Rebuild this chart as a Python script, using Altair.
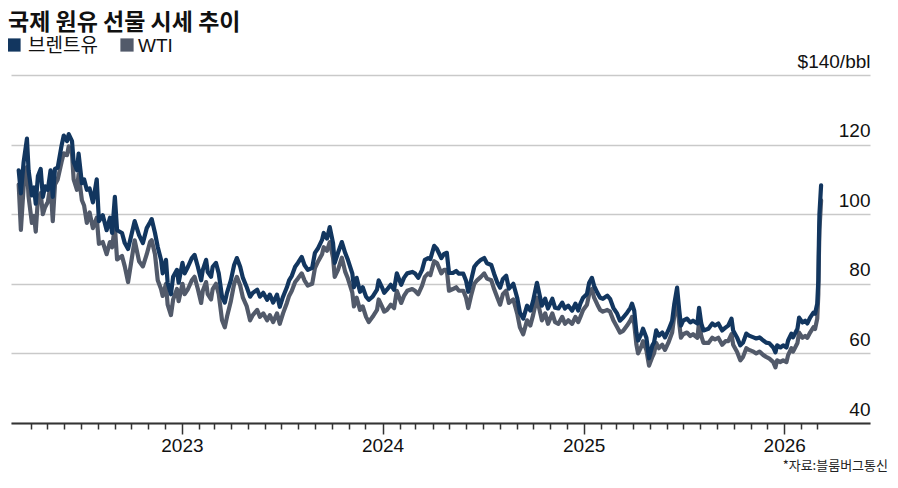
import altair as alt
import pandas as pd

TITLE = "국제 원유 선물 시세 추이"
SOURCE = "*자료:블룸버그통신"
SERIES = ["브렌트유", "WTI"]
COLORS = ["#12365f", "#525a6a"]

dates = [
    "2022-03-10","2022-03-14","2022-03-19","2022-03-25","2022-03-28","2022-04-03","2022-04-07","2022-04-10",
    "2022-04-14","2022-04-19","2022-04-23","2022-04-27","2022-05-02","2022-05-07","2022-05-11","2022-05-15",
    "2022-05-20","2022-05-27","2022-05-31","2022-06-06","2022-06-09","2022-06-15","2022-06-18","2022-06-24",
    "2022-06-27","2022-07-03","2022-07-07","2022-07-12","2022-07-17","2022-07-23","2022-07-30","2022-08-03",
    "2022-08-10","2022-08-17","2022-08-23","2022-08-27","2022-09-01","2022-09-05","2022-09-14","2022-09-19",
    "2022-09-25","2022-10-07","2022-10-15","2022-10-22","2022-10-29","2022-11-04","2022-11-07","2022-11-13",
    "2022-11-18","2022-11-24","2022-11-27","2022-12-03","2022-12-06","2022-12-12","2022-12-16","2022-12-23",
    "2022-12-26",
    "2023-01-02","2023-01-06","2023-01-12","2023-01-19","2023-01-24","2023-01-30","2023-02-05","2023-02-08",
    "2023-02-14","2023-02-17","2023-02-23","2023-02-26","2023-03-04","2023-03-09","2023-03-15","2023-03-20",
    "2023-03-24","2023-03-31","2023-04-06","2023-04-11","2023-04-17","2023-04-22","2023-04-29","2023-05-05",
    "2023-05-10","2023-05-18","2023-05-23","2023-05-29","2023-06-05","2023-06-10","2023-06-16","2023-06-23",
    "2023-06-28","2023-07-04","2023-07-11","2023-07-15","2023-07-20","2023-07-26","2023-07-31","2023-08-07",
    "2023-08-12","2023-08-18","2023-08-26","2023-08-31","2023-09-06","2023-09-13","2023-09-16","2023-09-22",
    "2023-09-27","2023-10-03","2023-10-06","2023-10-12","2023-10-19","2023-10-25","2023-10-30","2023-11-07",
    "2023-11-10","2023-11-15","2023-11-21","2023-11-26","2023-12-02","2023-12-07","2023-12-14","2023-12-22",
    "2023-12-25","2023-12-31",
    "2024-01-04","2024-01-09","2024-01-16","2024-01-22","2024-01-27","2024-02-04","2024-02-09","2024-02-15",
    "2024-02-24","2024-02-29","2024-03-06","2024-03-13","2024-03-18","2024-03-24","2024-03-28","2024-04-04",
    "2024-04-09","2024-04-17","2024-04-22","2024-04-27","2024-05-01","2024-05-08","2024-05-14","2024-05-19",
    "2024-05-27","2024-06-01","2024-06-05","2024-06-10","2024-06-16","2024-06-21","2024-06-28","2024-07-04",
    "2024-07-09","2024-07-17","2024-07-22","2024-07-28","2024-08-02","2024-08-07","2024-08-13","2024-08-18",
    "2024-08-26","2024-09-02","2024-09-07","2024-09-13","2024-09-20","2024-09-26","2024-10-01","2024-10-08",
    "2024-10-12","2024-10-17","2024-10-23","2024-10-28","2024-11-05","2024-11-10","2024-11-16","2024-11-23",
    "2024-11-28","2024-12-04","2024-12-11","2024-12-17","2024-12-22","2024-12-26","2024-12-31",
    "2025-01-07","2025-01-11","2025-01-16","2025-01-20","2025-01-26","2025-01-31","2025-02-05","2025-02-13",
    "2025-02-18","2025-02-24","2025-03-03","2025-03-08","2025-03-14","2025-03-21","2025-03-27","2025-03-30",
    "2025-04-03","2025-04-07","2025-04-10","2025-04-16","2025-04-19","2025-04-25","2025-04-30","2025-05-06",
    "2025-05-09","2025-05-13","2025-05-18","2025-05-24","2025-05-29","2025-06-04","2025-06-11","2025-06-15",
    "2025-06-20","2025-06-24","2025-06-27","2025-07-01","2025-07-08","2025-07-14","2025-07-19","2025-07-27",
    "2025-07-30","2025-08-03","2025-08-07","2025-08-16","2025-08-23","2025-08-28","2025-09-03","2025-09-10",
    "2025-09-16","2025-09-21","2025-09-27","2025-09-30","2025-10-07","2025-10-13","2025-10-18","2025-10-24",
    "2025-10-29","2025-11-06","2025-11-11","2025-11-17","2025-11-24","2025-11-29","2025-12-05","2025-12-12",
    "2025-12-16","2025-12-19","2025-12-25","2025-12-30",
    "2026-01-05","2026-01-08","2026-01-14","2026-01-17","2026-01-25","2026-01-28","2026-02-03","2026-02-08",
    "2026-02-12","2026-02-17","2026-02-23","2026-02-26","2026-03-02","2026-03-04","2026-03-05","2026-03-06",
    "2026-03-09",
]

brent = [
    112.6,106.0,115.0,121.7,112.6,105.4,107.7,103.0,
    111.0,113.0,105.0,108.0,107.0,112.6,105.0,113.0,
    113.4,119.7,122.6,121.0,123.0,121.0,115.0,112.6,
    117.4,108.9,110.0,107.0,107.4,103.4,110.0,98.0,
    99.7,95.4,99.0,94.6,105.0,95.4,94.6,91.7,
    90.0,98.0,94.0,91.7,96.0,97.7,98.6,94.6,
    90.6,86.9,83.0,86.9,80.3,77.0,82.0,84.0,
    80.3,
    86.0,83.0,84.9,87.4,88.3,84.9,81.0,84.0,
    86.9,83.4,82.0,84.9,86.0,83.0,76.3,74.6,
    77.4,81.0,85.4,87.4,84.9,81.7,79.0,76.3,
    77.4,78.3,76.3,77.4,75.4,76.9,74.6,76.9,
    73.4,76.3,79.0,81.0,82.3,84.9,86.0,87.7,
    85.4,84.0,84.6,88.9,90.3,92.6,94.6,93.0,
    96.3,91.7,86.0,88.9,92.0,88.9,86.9,83.0,
    79.0,81.7,77.7,79.0,76.3,75.4,76.3,78.3,
    81.0,79.0,
    77.4,78.3,79.7,78.3,83.0,79.7,81.7,83.0,
    83.4,83.0,81.7,84.0,86.9,87.4,87.1,90.9,
    90.0,87.4,88.6,88.9,83.1,83.1,83.7,82.9,
    82.9,80.9,77.7,80.9,84.9,85.9,86.9,87.4,
    85.9,85.4,82.9,80.3,78.9,81.4,82.3,78.6,
    80.0,76.0,71.7,70.0,73.7,72.3,75.1,80.3,
    77.4,73.7,75.7,72.9,75.7,73.1,72.9,74.6,
    72.9,73.7,72.3,74.3,72.3,74.3,76.0,
    77.1,80.3,81.7,79.4,77.4,76.0,75.7,76.6,
    75.7,73.1,71.4,69.4,70.3,71.7,73.1,74.3,
    72.3,66.0,63.7,65.7,67.1,64.6,58.6,62.3,
    63.1,66.6,65.1,66.0,64.6,66.6,69.4,74.3,
    78.9,72.3,68.0,69.4,70.0,68.9,69.4,68.6,
    73.1,68.6,66.6,67.1,68.6,68.0,68.6,66.6,
    67.4,68.0,70.0,66.6,64.6,62.3,63.1,65.7,
    65.1,64.6,64.3,64.6,63.7,63.1,62.9,61.7,
    60.3,62.3,61.7,62.3,
    61.7,63.7,65.7,64.6,67.1,70.3,68.9,69.4,
    68.6,70.3,71.7,71.4,74.3,81.0,92.0,100.0,
    108.3,
]

wti = [
    108.5,95.5,108.0,113.5,105.0,97.5,99.5,95.0,
    104.5,106.0,100.0,102.0,103.5,108.5,98.0,108.5,
    110.0,115.0,117.5,117.0,119.5,117.5,110.0,107.0,
    111.5,104.0,102.5,97.5,100.5,96.0,99.0,91.5,
    92.0,88.5,92.0,90.5,96.5,87.0,88.0,85.0,
    80.5,92.5,86.5,85.0,88.5,92.0,92.5,88.5,
    81.0,78.5,76.5,80.0,74.0,71.0,75.5,78.5,
    75.0,
    80.0,77.0,78.5,81.0,82.0,78.5,74.5,78.0,
    80.5,77.0,75.5,78.5,80.0,77.0,69.5,67.5,
    70.5,75.0,80.0,82.0,79.5,76.0,73.5,69.5,
    71.0,72.5,70.5,71.5,69.5,71.0,69.0,71.5,
    68.5,71.5,74.5,76.5,78.0,80.5,81.5,83.0,
    81.0,79.5,80.0,84.5,86.5,88.5,90.5,89.5,
    92.0,87.5,82.0,84.0,87.5,83.5,81.5,77.5,
    73.5,76.0,72.5,73.5,70.5,69.0,70.5,72.5,
    75.5,73.5,
    72.0,72.5,74.0,73.0,78.0,74.5,76.5,78.0,
    78.5,78.0,77.0,79.5,82.0,83.0,82.5,86.5,
    86.0,83.0,84.0,84.0,78.0,78.5,79.0,78.0,
    78.0,76.0,73.0,76.5,80.0,81.0,82.0,83.0,
    81.5,81.0,78.5,76.0,74.0,77.0,78.0,74.5,
    75.5,71.5,67.5,65.5,69.5,68.0,71.0,76.0,
    73.0,69.5,71.5,68.5,71.5,69.0,68.5,70.5,
    68.5,69.5,68.5,70.5,69.0,70.5,72.5,
    74.0,77.0,78.5,76.0,74.0,72.5,72.0,72.5,
    72.0,69.5,67.5,66.0,66.5,68.0,69.5,70.5,
    68.5,62.5,60.0,62.0,63.5,61.0,56.5,59.0,
    60.0,63.0,61.5,62.5,61.0,63.0,66.0,71.0,
    75.0,68.5,64.5,65.5,66.0,65.0,65.5,64.5,
    69.0,65.0,63.0,63.0,64.5,64.0,64.5,62.5,
    63.5,63.5,65.5,62.5,60.5,58.0,59.0,61.5,
    61.0,60.5,60.0,60.5,59.5,59.0,58.5,57.5,
    56.0,58.0,57.5,58.0,
    57.5,59.5,61.5,60.5,63.0,66.0,64.5,65.0,
    64.5,66.0,67.5,67.0,70.0,77.0,88.0,95.5,
    104.0,
]

y_ticks = [40, 60, 80, 100, 120, 140]
y_top_label = "$140/bbl"

# monthly tick marks on the time axis
month_ticks = []
for yr in range(2022, 2027):
    for mo in range(1, 13):
        if (yr, mo) < (2022, 4) or (yr, mo) > (2026, 3):
            continue
        month_ticks.append(alt.DateTime(year=yr, month=mo, date=1, utc=True))

df = pd.DataFrame({"date": dates, "브렌트유": brent, "WTI": wti})

LATIN = "Liberation Sans, Arial, sans-serif"
KR = "Noto Sans CJK KR, sans-serif"

x_enc = alt.X(
    "date:T",
    scale=alt.Scale(
        type="utc",
        domain=[alt.DateTime(year=2022, month=2, date=24, utc=True),
                alt.DateTime(year=2026, month=6, date=6, utc=True)],
    ),
    axis=alt.Axis(
        values=month_ticks,
        labelExpr="utcmonth(datum.value) == 0 ? utcFormat(datum.value, '%Y') : ''",
        tickSize={"condition": {"test": "utcmonth(datum.value) == 0", "value": 11}, "value": 6},
        tickColor="#333333",
        tickWidth=1.5,
        domainColor="#333333",
        domainWidth=2,
        grid=False,
        labelFont=LATIN,
        labelFontSize=19,
        labelColor="#111111",
        labelPadding=2,
        labelOverlap=False,
        labelFlush=False,
        title=None,
    ),
)

y_axis = alt.Axis(
    orient="right",
    values=y_ticks,
    labelExpr=f"datum.value == 140 ? '{y_top_label}' : datum.label",
    grid=True,
    gridColor="#c9c9c9",
    gridWidth=1.3,
    domain=False,
    ticks=False,
    tickSize=0,
    labelAlign="right",
    labelBaseline="alphabetic",
    labelPadding=0,
    labelOffset=-8,
    labelFont=LATIN,
    labelFontSize=19,
    labelColor="#111111",
    title=None,
)

base = alt.Chart(df)

wti_line = base.mark_line(
    color=COLORS[1], strokeWidth=4.2, strokeJoin="round", strokeCap="round"
).encode(
    x=x_enc,
    y=alt.Y("WTI:Q", scale=alt.Scale(domain=[40, 140], nice=False, zero=False), axis=y_axis),
)

brent_line = base.mark_line(
    color=COLORS[0], strokeWidth=4.2, strokeJoin="round", strokeCap="round"
).encode(
    x=x_enc,
    y=alt.Y("브렌트유:Q", scale=alt.Scale(domain=[40, 140], nice=False, zero=False), axis=y_axis),
)

one = pd.DataFrame({"k": [0]})

title_mark = alt.Chart(one).mark_text(
    text=TITLE, font=KR, fontSize=23, fontWeight="bold", align="left",
    baseline="alphabetic", color="#111111",
).encode(x=alt.value(-3), y=alt.value(-45))

leg_sq1 = alt.Chart(one).mark_square(size=175, color=COLORS[0], opacity=1).encode(
    x=alt.value(3), y=alt.value(-30))
leg_sq2 = alt.Chart(one).mark_square(size=175, color=COLORS[1], opacity=1).encode(
    x=alt.value(116), y=alt.value(-30))
leg_t1 = alt.Chart(one).mark_text(
    text=SERIES[0], font=KR, fontSize=19, align="left", baseline="alphabetic", color="#111111"
).encode(x=alt.value(17), y=alt.value(-23))
leg_t2 = alt.Chart(one).mark_text(
    text=SERIES[1], font=LATIN, fontSize=19, align="left", baseline="alphabetic", color="#111111"
).encode(x=alt.value(127), y=alt.value(-23))

source_mark = alt.Chart(one).mark_text(
    text=SOURCE, font=KR, fontSize=13, align="right", baseline="alphabetic", color="#222222"
).encode(x=alt.value(877), y=alt.value(395))

chart = alt.layer(
    wti_line, brent_line, title_mark, leg_sq1, leg_sq2, leg_t1, leg_t2, source_mark
).properties(
    width=859,
    height=348,
    autosize=alt.AutoSizeParams(type="none"),
    padding={"left": 3, "top": 67, "right": 20, "bottom": 51},
    background="white",
).configure_view(stroke=None)

chart.save("out.html", embed_options={"renderer": "svg", "actions": False})
